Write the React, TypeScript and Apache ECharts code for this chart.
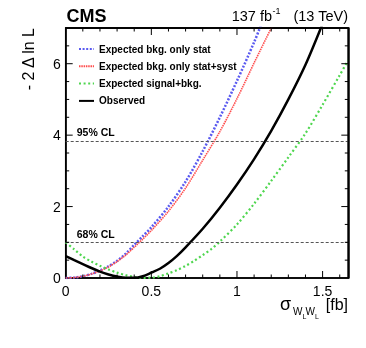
import React, { useEffect, useRef } from "react";
import * as echarts from "echarts";

// x values (sigma_WLWL [fb]) and -2 Delta ln L values for each curve
const xBkgStat = [0, 0.05, 0.1, 0.15, 0.2, 0.25, 0.3, 0.35, 0.4, 0.45, 0.5, 0.6, 0.7, 0.8, 0.9, 1.0, 1.1, 1.15];
const yBkgStat = [0, 0.012, 0.05, 0.115, 0.21, 0.33, 0.48, 0.68, 0.93, 1.17, 1.42, 2.0, 2.7, 3.55, 4.5, 5.52, 6.6, 7.2];

const xBkgSyst = [0, 0.05, 0.1, 0.15, 0.2, 0.25, 0.3, 0.35, 0.4, 0.45, 0.5, 0.6, 0.7, 0.8, 0.9, 1.0, 1.1, 1.2, 1.21];
const yBkgSyst = [0, 0.012, 0.05, 0.11, 0.2, 0.31, 0.46, 0.64, 0.86, 1.09, 1.33, 1.87, 2.52, 3.3, 4.1, 5.02, 6.02, 7.0, 7.1];

const xSigBkg = [0, 0.05, 0.1, 0.15, 0.2, 0.25, 0.3, 0.35, 0.4, 0.45, 0.5, 0.55, 0.6, 0.65, 0.7, 0.75, 0.8, 0.85, 0.9, 1.0, 1.1, 1.2, 1.3, 1.4, 1.5, 1.6, 1.65];
const ySigBkg = [1.0, 0.8, 0.6, 0.46, 0.34, 0.24, 0.15, 0.08, 0.03, 0.005, 0.01, 0.05, 0.13, 0.22, 0.34, 0.48, 0.64, 0.81, 1.02, 1.5, 2.08, 2.72, 3.38, 4.05, 4.85, 5.68, 6.1];

const xObs = [0, 0.05, 0.1, 0.15, 0.2, 0.25, 0.3, 0.35, 0.4, 0.45, 0.5, 0.55, 0.6, 0.65, 0.7, 0.8, 0.9, 1.0, 1.1, 1.2, 1.3, 1.4, 1.5];
const yObs = [0.615, 0.5, 0.39, 0.28, 0.18, 0.1, 0.04, 0.005, 0.005, 0.05, 0.15, 0.26, 0.42, 0.62, 0.86, 1.38, 1.97, 2.62, 3.33, 4.12, 5.0, 5.97, 7.12];

const seriesNames = [
  "Expected bkg. only stat",
  "Expected bkg. only stat+syst",
  "Expected signal+bkg.",
  "Observed",
];

const clLevels = [3.84, 1];
const clLabels = ["95% CL", "68% CL"];

const xTickLabels = ["0", "0.5", "1", "1.5"];
const yTickLabels = ["0", "2", "4", "6"];

// tick positions drawn on all four sides of the frame
const xMajorTicks = [0.5, 1, 1.5];
const xMinorTicks = [0.1, 0.2, 0.3, 0.4, 0.6, 0.7, 0.8, 0.9, 1.1, 1.2, 1.3, 1.4, 1.6];
const yMajorTicks = [2, 4, 6];
const yMinorTicks = [0.5, 1, 1.5, 2.5, 3, 3.5, 4.5, 5, 5.5, 6.5];

const X_MIN = 0;
const X_MAX = 1.65;
const Y_MIN = 0;
const Y_MAX = 7;

const FONT = "Liberation Sans, Arial, Helvetica, sans-serif";

const zip = (xs: number[], ys: number[]) => xs.map((x, i) => [x, ys[i]]);

export default function App() {
  const ref = useRef<HTMLDivElement>(null);
  useEffect(() => {
    if (!ref.current) return;
    const chart = echarts.init(ref.current, undefined, { renderer: "svg" });

    const baseGraphic: any[] = [
      {
        type: "text",
        left: 66.5,
        top: 7,
        style: { text: "CMS", font: `bold 18px ${FONT}`, fill: "#000" },
      },
      {
        type: "text",
        x: 348,
        y: 15.5,
        style: { text: "(13 TeV)", font: `14.5px ${FONT}`, fill: "#000", align: "right", verticalAlign: "middle" },
      },
      {
        type: "text",
        x: 272,
        y: 15.5,
        style: { text: "137 fb", font: `14.5px ${FONT}`, fill: "#000", align: "right", verticalAlign: "middle" },
      },
      {
        type: "text",
        x: 272.5,
        y: 10.5,
        style: { text: "-1", font: `9px ${FONT}`, fill: "#000", align: "left", verticalAlign: "middle" },
      },
      {
        type: "text",
        x: 28,
        y: 28,
        rotation: Math.PI / 2,
        style: { text: "- 2 Δ ln L", font: `16px ${FONT}`, fill: "#000", align: "right", verticalAlign: "middle" },
      },
      {
        type: "text",
        x: 280,
        y: 304,
        style: { text: "σ", font: `18px ${FONT}`, fill: "#000", align: "left", verticalAlign: "middle" },
      },
      {
        type: "text",
        x: 293,
        y: 311,
        style: { text: "W", font: `10px ${FONT}`, fill: "#000", align: "left", verticalAlign: "middle" },
      },
      {
        type: "text",
        x: 302.5,
        y: 316,
        style: { text: "L", font: `7px ${FONT}`, fill: "#000", align: "left", verticalAlign: "middle" },
      },
      {
        type: "text",
        x: 305.5,
        y: 311,
        style: { text: "W", font: `10px ${FONT}`, fill: "#000", align: "left", verticalAlign: "middle" },
      },
      {
        type: "text",
        x: 315,
        y: 316,
        style: { text: "L", font: `7px ${FONT}`, fill: "#000", align: "left", verticalAlign: "middle" },
      },
      {
        type: "text",
        x: 348,
        y: 304,
        style: { text: "[fb]", font: `16px ${FONT}`, fill: "#000", align: "right", verticalAlign: "middle" },
      },
    ];

    const frameLine = { show: true, onZero: false, lineStyle: { color: "#000", width: 1.5 } };

    const option: any = {
      animation: false,
      grid: {
        left: 65.7,
        right: 17.7,
        top: 28,
        bottom: 70,
        show: true,
        borderColor: "#000",
        borderWidth: 1.5,
        backgroundColor: "transparent",
      },
      xAxis: [
        {
          type: "value",
          position: "bottom",
          min: X_MIN,
          max: X_MAX,
          interval: 0.5,
          splitLine: { show: false },
          axisLine: frameLine,
          axisTick: { show: false },
          axisLabel: {
            color: "#000",
            fontSize: 14,
            fontFamily: FONT,
            margin: 6,
            showMaxLabel: false,
            formatter: (v: number) => {
              const i = Math.round(v / 0.5);
              return Math.abs(v - i * 0.5) < 1e-6 && xTickLabels[i] ? xTickLabels[i] : "";
            },
          },
        },
        {
          type: "value",
          position: "top",
          min: X_MIN,
          max: X_MAX,
          interval: 0.5,
          splitLine: { show: false },
          axisLine: { show: true, onZero: false, lineStyle: { color: "#000", width: 1.5 } },
          axisTick: { show: false },
          axisLabel: { show: false },
        },
      ],
      yAxis: [
        {
          type: "value",
          position: "left",
          min: Y_MIN,
          max: Y_MAX,
          interval: 2,
          splitLine: { show: false },
          axisLine: frameLine,
          axisTick: { show: false },
          axisLabel: {
            color: "#000",
            fontSize: 14,
            fontFamily: FONT,
            margin: 5,
            showMaxLabel: false,
            formatter: (v: number) => {
              const i = Math.round(v / 2);
              return Math.abs(v - i * 2) < 1e-6 && yTickLabels[i] ? yTickLabels[i] : "";
            },
          },
        },
        {
          type: "value",
          position: "right",
          min: Y_MIN,
          max: Y_MAX,
          interval: 2,
          splitLine: { show: false },
          axisLine: { show: true, onZero: false, lineStyle: { color: "#000", width: 1.5 } },
          axisTick: { show: false },
          axisLabel: { show: false },
        },
      ],
      legend: {
        orient: "vertical",
        left: 73,
        top: 39,
        itemWidth: 15,
        itemHeight: 10,
        itemGap: 7.3,
        itemStyle: { opacity: 0 },
        data: seriesNames,
        textStyle: { color: "#000", fontSize: 10, fontWeight: "bold", fontFamily: FONT },
      },
      series: [
        {
          name: seriesNames[0],
          type: "line",
          xAxisIndex: 0,
          yAxisIndex: 0,
          data: zip(xBkgStat, yBkgStat),
          symbol: "none",
          showSymbol: false,
          smooth: 0.3,
          lineStyle: { color: "#5a5af0", width: 2.5, type: [2, 1.6] },
          itemStyle: { color: "#5a5af0" },
          z: 3,
        },
        {
          name: seriesNames[1],
          type: "line",
          xAxisIndex: 0,
          yAxisIndex: 0,
          data: zip(xBkgSyst, yBkgSyst),
          symbol: "none",
          showSymbol: false,
          smooth: 0.3,
          lineStyle: { color: "#ff4d4d", width: 1.6, type: [1.5, 0.8] },
          itemStyle: { color: "#ff4d4d" },
          z: 3,
        },
        {
          name: seriesNames[2],
          type: "line",
          xAxisIndex: 0,
          yAxisIndex: 0,
          data: zip(xSigBkg, ySigBkg),
          symbol: "none",
          showSymbol: false,
          smooth: 0.3,
          lineStyle: { color: "#4fd64f", width: 2.2, type: [2, 2.6] },
          itemStyle: { color: "#4fd64f" },
          z: 3,
        },
        {
          name: seriesNames[3],
          type: "line",
          xAxisIndex: 0,
          yAxisIndex: 0,
          data: zip(xObs, yObs),
          symbol: "none",
          showSymbol: false,
          smooth: 0.3,
          lineStyle: { color: "#000", width: 2.5, type: "solid" },
          itemStyle: { color: "#000" },
          z: 4,
          markLine: {
            silent: true,
            symbol: "none",
            lineStyle: { color: "#555", width: 1, type: [3, 2] },
            label: {
              show: true,
              position: "insideStartTop",
              distance: [11, 3],
              color: "#000",
              fontSize: 10.5,
              fontWeight: "bold",
              fontFamily: FONT,
            },
            data: clLevels.map((v, i) => ({
              yAxis: v,
              label: { formatter: clLabels[i] },
            })),
          },
        },
      ],
      graphic: baseGraphic,
    };
    chart.setOption(option);

    // frame and ticks placed through the chart's own scales
    const px = (x: number, y: number) =>
      chart.convertToPixel({ xAxisIndex: 0, yAxisIndex: 0 } as any, [x, y]) as unknown as number[];
    const frameEls: any[] = [];
    const seg = (a: number[], b: number[], w = 1) =>
      frameEls.push({
        type: "line",
        silent: true,
        z: 100,
        shape: { x1: a[0], y1: a[1], x2: b[0], y2: b[1] },
        style: { stroke: "#000", lineWidth: w },
      });
    const lo = px(X_MIN, Y_MIN);
    const hi = px(X_MAX, Y_MAX);
    if (lo && hi && isFinite(lo[0]) && isFinite(hi[1])) {
      seg([lo[0], hi[1]], [hi[0], hi[1]], 1.5);
      seg([hi[0], hi[1]], [hi[0], lo[1]], 1.5);
      const xt = (v: number, len: number) => {
        const b = px(v, Y_MIN);
        const t = px(v, Y_MAX);
        seg(b, [b[0], b[1] - len]);
        seg(t, [t[0], t[1] + len]);
      };
      const yt = (v: number, len: number) => {
        const l = px(X_MIN, v);
        const r = px(X_MAX, v);
        seg(l, [l[0] + len, l[1]]);
        seg(r, [r[0] - len, r[1]]);
      };
      xMajorTicks.forEach((v) => xt(v, 7));
      xMinorTicks.forEach((v) => xt(v, 3.5));
      yMajorTicks.forEach((v) => yt(v, 7));
      yMinorTicks.forEach((v) => yt(v, 3.5));
      chart.setOption({ graphic: [...baseGraphic, ...frameEls] });
    }

    return () => chart.dispose();
  }, []);
  return <div ref={ref} style={{ position: "fixed", left: 0, top: 0, width: 366, height: 348 }} />;
}
